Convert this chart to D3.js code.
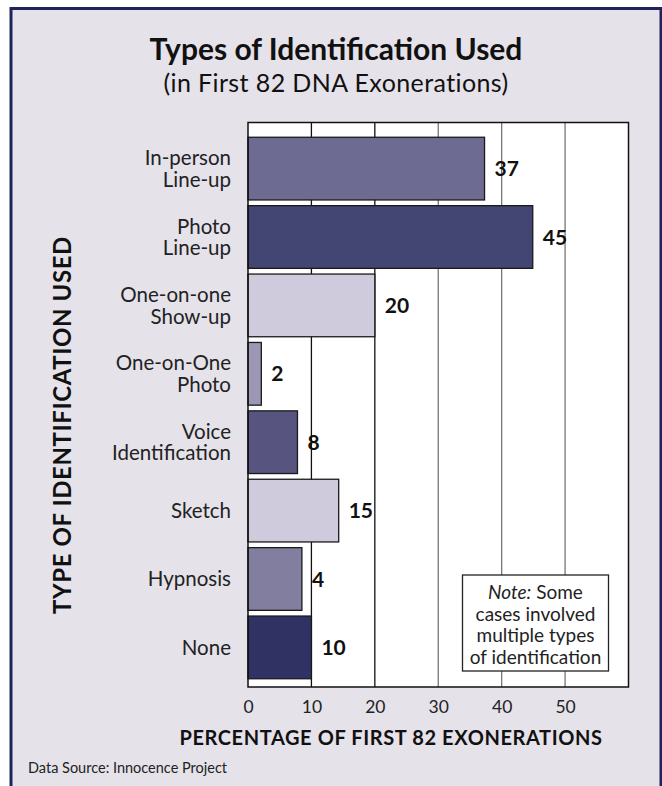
<!DOCTYPE html>
<html><head><meta charset="utf-8">
<script src="https://cdn.jsdelivr.net/npm/d3@7"></script>
<style>html,body{margin:0;padding:0;background:#fff;}svg{display:block;}</style>
</head><body>
<script>
const categories = [["In-person","Line-up"],["Photo","Line-up"],["One-on-one","Show-up"],["One-on-One","Photo"],["Voice","Identification"],["Sketch"],["Hypnosis"],["None"]];
const labels = [37, 45, 20, 2, 8, 15, 4, 10];
const barValues = [37.3, 44.9, 20, 2.1, 7.8, 14.3, 8.5, 10];
const colors = ["#6e6b93","#434572","#cfcbdd","#9b97b5","#57557f","#cfcbdd","#827e9f","#2f3263"];
const ticks = [0, 10, 20, 30, 40, 50];
const noteLines = ["Some","cases involved","multiple types","of identification"];

(function(){
const W = 662, H = 786;
const svg = d3.select("body").append("svg").attr("width", W).attr("height", H);
const font = "Lato, 'Open Sans', sans-serif";

svg.append("rect").attr("x",11).attr("y",8.5).attr("width",650).attr("height",800)
  .attr("fill","#e5e2ea").attr("stroke","#1e2458").attr("stroke-width",3);

svg.append("text").attr("x",336).attr("y",60).attr("text-anchor","middle")
  .attr("font-family",font).attr("font-weight",700).attr("font-size",30).attr("fill","#111")
  .text("Types of Identification Used");
svg.append("text").attr("x",336).attr("y",92).attr("text-anchor","middle")
  .attr("font-family",font).attr("font-size",25).attr("letter-spacing",0.4).attr("fill","#111")
  .text("(in First 82 DNA Exonerations)");

const pL = 248, pR = 628.5, pT = 122.5, pB = 687;
const x = d3.scaleLinear().domain([0,60]).range([pL, pR]);
const idx = d3.range(categories.length);
const y = d3.scaleBand().domain(idx).range([134.4, 681.6]).paddingInner(0.0833).paddingOuter(0.0417);

svg.append("rect").attr("x",pL).attr("y",pT).attr("width",pR-pL).attr("height",pB-pT)
  .attr("fill","#fff");

svg.append("g").selectAll("line").data(ticks.slice(1)).join("line")
  .attr("x1", d=>x(d)).attr("x2", d=>x(d)).attr("y1",pT).attr("y2",pB)
  .attr("stroke", d=> d<=20 ? "#111" : "#777").attr("stroke-width",1.3);

svg.append("g").selectAll("rect").data(idx).join("rect")
  .attr("x", x(0)).attr("y", i=>y(i)).attr("width", i=>x(barValues[i])-x(0)).attr("height", y.bandwidth())
  .attr("fill", i=>colors[i]).attr("stroke","#1a1a1a").attr("stroke-width",1.3);

svg.append("rect").attr("x",pL).attr("y",pT).attr("width",pR-pL).attr("height",pB-pT)
  .attr("fill","none").attr("stroke","#111").attr("stroke-width",1.5);

svg.append("g").selectAll("text").data(idx).join("text")
  .attr("x", i=>x(barValues[i])+10).attr("y", i=>y(i)+y.bandwidth()/2).attr("dy","0.36em")
  .attr("font-family",font).attr("font-weight",700).attr("font-size",21).attr("fill","#111")
  .text(i=>labels[i]);

const catG = svg.append("g");
idx.forEach(i=>{
  const lines = categories[i];
  const cy = y(i)+y.bandwidth()/2;
  const lh = 21.7;
  lines.forEach((t,k)=>{
    catG.append("text").attr("x",231).attr("y", cy + (k-(lines.length-1)/2)*lh).attr("dy","0.36em")
      .attr("text-anchor","end").attr("font-family",font).attr("font-size",20.5).attr("fill","#222").text(t);
  });
});

const xAxis = d3.axisBottom(x).tickValues(ticks).tickSize(0).tickPadding(14);
const gx = svg.append("g").attr("transform",`translate(0,${pB})`).call(xAxis);
gx.select(".domain").remove();
gx.selectAll("text").attr("font-family",font).attr("font-size",17.5).attr("fill","#222");

svg.append("text").attr("x",391).attr("y",745).attr("text-anchor","middle")
  .attr("font-family",font).attr("font-weight",700).attr("font-size",20).attr("letter-spacing",0.6).attr("fill","#111")
  .text("PERCENTAGE OF FIRST 82 EXONERATIONS");

svg.append("text").attr("transform","translate(71,425) rotate(-90)").attr("text-anchor","middle")
  .attr("font-family",font).attr("font-weight",700).attr("font-size",24).attr("letter-spacing",0.6).attr("fill","#111")
  .text("TYPE OF IDENTIFICATION USED");

svg.append("text").attr("x",28).attr("y",773).attr("font-family",font).attr("font-size",14.5).attr("fill","#222")
  .text("Data Source: Innocence Project");

const nx = 462.5, ny = 575, nw = 146, nh = 96;
svg.append("rect").attr("x",nx).attr("y",ny).attr("width",nw).attr("height",nh)
  .attr("fill","#fff").attr("stroke","#222").attr("stroke-width",1.3);
const nt = svg.append("text").attr("text-anchor","middle").attr("font-family",font).attr("font-size",19).attr("fill","#222");
noteLines.forEach((t,k)=>{
  const ts = nt.append("tspan").attr("x", nx+nw/2).attr("y", ny+24+k*21.5);
  if(k===0){ ts.append("tspan").attr("font-style","italic").text("Note:"); ts.append("tspan").text(" "+t); }
  else ts.text(t);
});
})();
</script>
</body></html>
